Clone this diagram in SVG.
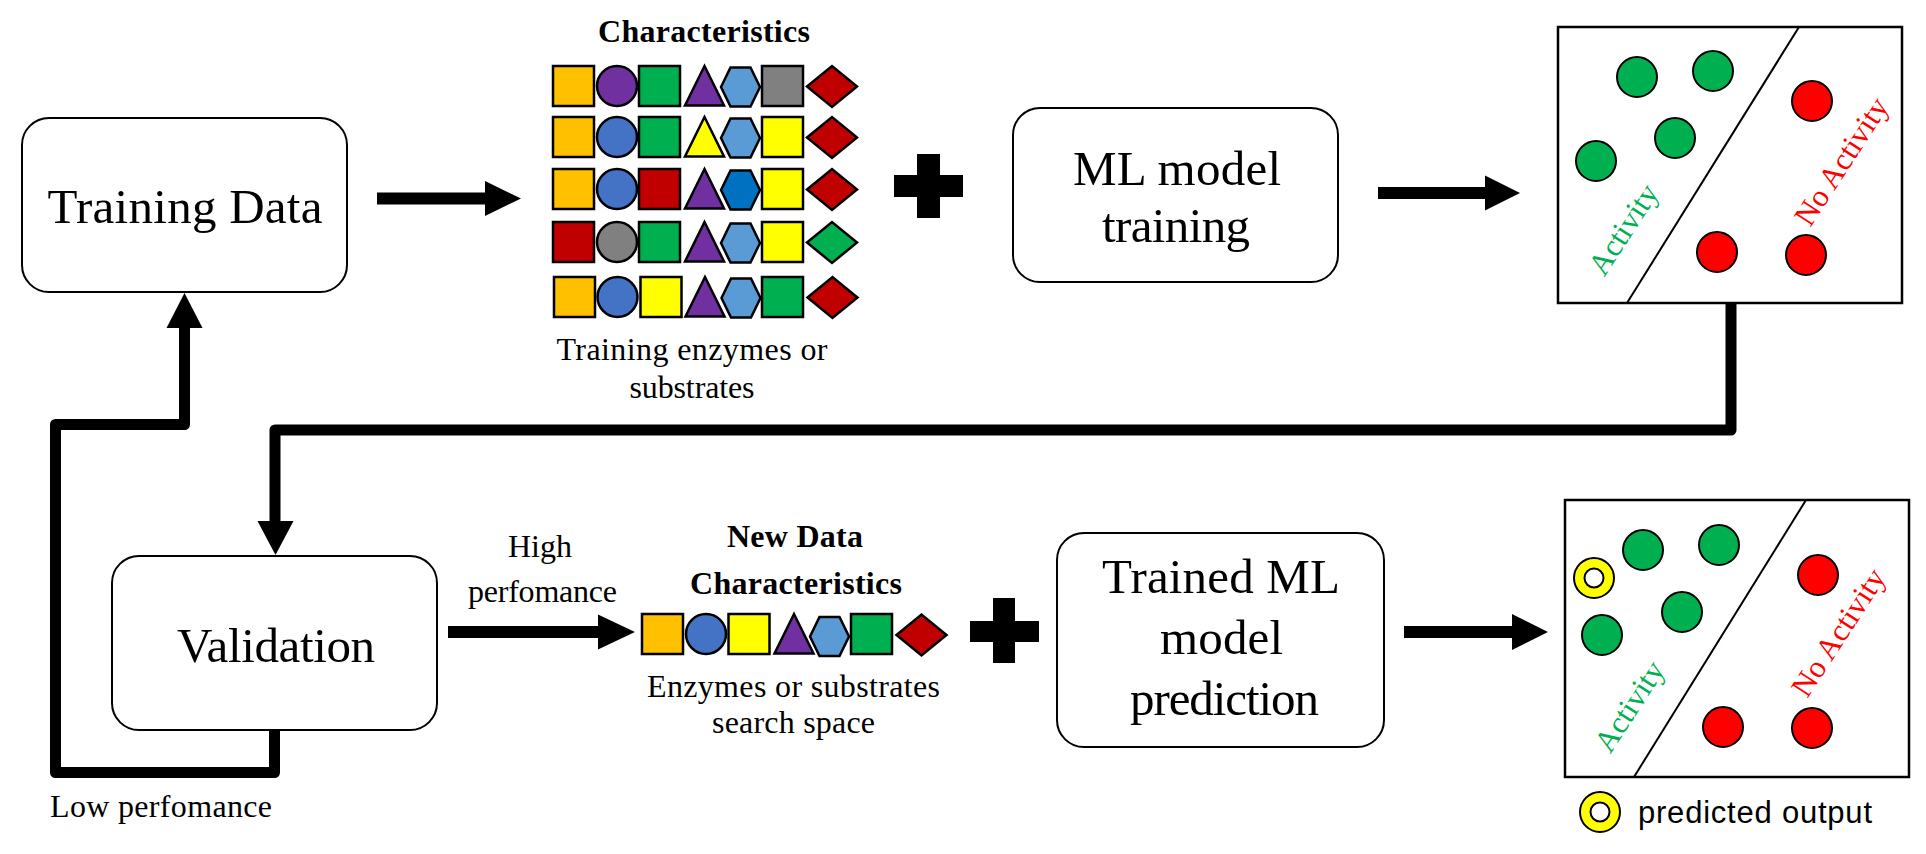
<svg xmlns="http://www.w3.org/2000/svg" width="1926" height="854" viewBox="0 0 1926 854">
<style>
.box{fill:#fff;stroke:#000;stroke-width:2}
.t{font-family:"Liberation Serif","Times New Roman",serif;fill:#000}
.big{font-size:49px}
.sm{font-size:32px}
.b{font-weight:bold}
.sh{stroke:#000;stroke-width:2.5;stroke-linejoin:miter}
.dot{stroke:#000;stroke-width:2}
.panel{fill:#fff;stroke:#000;stroke-width:2.5}
.div{stroke:#000;stroke-width:2}
.conn{fill:none;stroke:#000;stroke-width:11;stroke-linejoin:round}
.ah{fill:#000}
.act{font-family:"Liberation Serif","Times New Roman",serif;font-size:31px;fill:#00B050}
.noact{font-family:"Liberation Serif","Times New Roman",serif;font-size:31px;fill:#FF0000}
.g{fill:#00B050}
.r{fill:#FF0000}
</style>
<defs>
<rect id="sq" class="sh" x="-20.5" y="-20" width="41" height="40"/>
<circle id="ci" class="sh" r="20"/>
<polygon id="tr" class="sh" points="0,-20 19.5,19.5 -19.5,19.5"/>
<polygon id="hx" class="sh" points="-19.5,0 -10,-19.5 10,-19.5 19.5,0 10,19.5 -10,19.5"/>
<polygon id="di" class="sh" points="-25,0 0,-20.5 25,0 0,20.5"/>
<g id="ring"><circle r="20" fill="#FFFF00" stroke="#000" stroke-width="2"/><circle r="9.5" fill="#fff" stroke="#000" stroke-width="2"/></g>
</defs>
<rect width="1926" height="854" fill="#fff"/>

<g id="connectors">
<path class="ah" d="M377,192.5 H485 V181 L521,198.5 L485,216 V204.5 H377 Z"/>
<path class="ah" d="M1378,187 H1485 V175.5 L1520,193 L1485,210.5 V199 H1378 Z"/>
<path class="ah" d="M448,626 H598 V614.5 L635,632 L598,649.5 V638 H448 Z"/>
<path class="ah" d="M1404,626 H1512 V614 L1548,632 L1512,650 V638 H1404 Z"/>
<path class="conn" d="M1731,303 V430 H275 V524"/>
<polygon class="ah" points="257.5,521 293.5,521 275.5,555"/>
<path class="conn" d="M274.5,730 V772.5 H55.5 V424.5 H184.5 V326"/>
<polygon class="ah" points="166.5,328 202.5,328 184.5,293"/>
<polygon class="ah" points="917,154 940,154 940,175 963,175 963,197 940,197 940,218 917,218 917,197 894,197 894,175 917,175"/>
<polygon class="ah" points="993,598 1015,598 1015,621 1039,621 1039,642 1015,642 1015,663 993,663 993,642 970,642 970,621 993,621"/>
</g>

<g id="training-data">
<rect class="box" x="22" y="118" width="325" height="174" rx="27"/>
<text class="t big" x="185" y="223" text-anchor="middle" textLength="275">Training  Data</text>
</g>

<g id="characteristics">
<text class="t sm b" x="704" y="42" text-anchor="middle" textLength="212">Characteristics</text>
<use href="#sq" x="573.5" y="86" fill="#FFC000"/>
<use href="#ci" x="617" y="86" fill="#7030A0"/>
<use href="#sq" x="659.5" y="86" fill="#00B050"/>
<use href="#tr" x="704.5" y="86" fill="#7030A0"/>
<use href="#hx" x="740.5" y="87" fill="#5B9BD5"/>
<use href="#sq" x="782.5" y="86" fill="#808080"/>
<use href="#di" x="832" y="86.5" fill="#C00000"/>

<use href="#sq" x="573.5" y="137" fill="#FFC000"/>
<use href="#ci" x="617" y="137" fill="#4472C4"/>
<use href="#sq" x="659.5" y="137" fill="#00B050"/>
<use href="#tr" x="704.5" y="137" fill="#FFFF00"/>
<use href="#hx" x="740.5" y="138" fill="#5B9BD5"/>
<use href="#sq" x="782.5" y="137" fill="#FFFF00"/>
<use href="#di" x="832" y="137.5" fill="#C00000"/>

<use href="#sq" x="573.5" y="189" fill="#FFC000"/>
<use href="#ci" x="617" y="189" fill="#4472C4"/>
<use href="#sq" x="659.5" y="189" fill="#C00000"/>
<use href="#tr" x="704.5" y="189" fill="#7030A0"/>
<use href="#hx" x="740.5" y="190" fill="#0070C0"/>
<use href="#sq" x="782.5" y="189" fill="#FFFF00"/>
<use href="#di" x="832" y="189.5" fill="#C00000"/>

<use href="#sq" x="573.5" y="242" fill="#C00000"/>
<use href="#ci" x="617" y="242" fill="#808080"/>
<use href="#sq" x="659.5" y="242" fill="#00B050"/>
<use href="#tr" x="704.5" y="242" fill="#7030A0"/>
<use href="#hx" x="740.5" y="243" fill="#5B9BD5"/>
<use href="#sq" x="782.5" y="242" fill="#FFFF00"/>
<use href="#di" x="832" y="242.5" fill="#00B050"/>

<use href="#sq" x="574.5" y="297" fill="#FFC000"/>
<use href="#ci" x="617.5" y="297" fill="#4472C4"/>
<use href="#sq" x="661" y="297" fill="#FFFF00"/>
<use href="#tr" x="705" y="297" fill="#7030A0"/>
<use href="#hx" x="741" y="298" fill="#5B9BD5"/>
<use href="#sq" x="782.5" y="297" fill="#00B050"/>
<use href="#di" x="832.5" y="297.5" fill="#C00000"/>

<text class="t sm" x="692" y="360" text-anchor="middle" textLength="271">Training enzymes  or</text>
<text class="t sm" x="692" y="398" text-anchor="middle" textLength="125">substrates</text>
</g>

<g id="ml-training">
<rect class="box" x="1013" y="108" width="325" height="174" rx="27"/>
<text class="t big" x="1177" y="185" text-anchor="middle" textLength="208">ML model</text>
<text class="t big" x="1176" y="242" text-anchor="middle" textLength="148">training</text>
</g>

<g id="result-training">
<rect class="panel" x="1558" y="27" width="344" height="276"/>
<line class="div" x1="1799" y1="27" x2="1627" y2="303"/>
<circle class="dot g" cx="1637" cy="77" r="20"/>
<circle class="dot g" cx="1713" cy="71" r="20"/>
<circle class="dot g" cx="1675" cy="138" r="20"/>
<circle class="dot g" cx="1596" cy="161" r="20"/>
<circle class="dot r" cx="1812" cy="101" r="20"/>
<circle class="dot r" cx="1717" cy="252" r="20"/>
<circle class="dot r" cx="1806" cy="255" r="20"/>
<text class="act" x="1632" y="235" text-anchor="middle" transform="rotate(-57 1632 235)">Activity</text>
<text class="noact" x="1850" y="167" text-anchor="middle" transform="rotate(-57 1850 167)">No Activity</text>
</g>

<g id="validation">
<rect class="box" x="112" y="556" width="325" height="174" rx="27"/>
<text class="t big" x="276" y="662" text-anchor="middle" textLength="198">Validation</text>
</g>

<g id="labels">
<text class="t sm" x="540" y="557" text-anchor="middle">High</text>
<text class="t sm" x="542.5" y="602" text-anchor="middle" textLength="149">perfomance</text>
<text class="t sm" x="50" y="817" textLength="222">Low perfomance</text>
</g>

<g id="new-data">
<text class="t sm b" x="795" y="547" text-anchor="middle" textLength="136">New Data</text>
<text class="t sm b" x="796" y="594" text-anchor="middle" textLength="212">Characteristics</text>
<use href="#sq" x="662.5" y="634" fill="#FFC000"/>
<use href="#ci" x="706" y="634" fill="#4472C4"/>
<use href="#sq" x="749" y="634" fill="#FFFF00"/>
<use href="#tr" x="794" y="634" fill="#7030A0"/>
<use href="#hx" x="829.5" y="636.5" fill="#5B9BD5"/>
<use href="#sq" x="871.5" y="634" fill="#00B050"/>
<use href="#di" x="921.5" y="635" fill="#C00000"/>
<text class="t sm" x="793.5" y="697" text-anchor="middle" textLength="293">Enzymes  or substrates</text>
<text class="t sm" x="793.5" y="733" text-anchor="middle" textLength="163">search  space</text>
</g>

<g id="trained-prediction">
<rect class="box" x="1057" y="533" width="327" height="214" rx="27"/>
<text class="t big" x="1221" y="593" text-anchor="middle" textLength="238">Trained ML</text>
<text class="t big" x="1221.5" y="654" text-anchor="middle" textLength="123">model</text>
<text class="t big" x="1224.5" y="715" text-anchor="middle" textLength="189">prediction</text>
</g>

<g id="result-prediction">
<rect class="panel" x="1565" y="500" width="344" height="277"/>
<line class="div" x1="1806" y1="500" x2="1634" y2="777"/>
<circle class="dot g" cx="1643" cy="550" r="20"/>
<circle class="dot g" cx="1719" cy="545" r="20"/>
<circle class="dot g" cx="1682" cy="612" r="20"/>
<circle class="dot g" cx="1602" cy="635" r="20"/>
<use href="#ring" x="1594" y="578"/>
<circle class="dot r" cx="1818" cy="575" r="20"/>
<circle class="dot r" cx="1723" cy="727" r="20"/>
<circle class="dot r" cx="1812" cy="728" r="20"/>
<text class="act" x="1638" y="712" text-anchor="middle" transform="rotate(-57 1638 712)">Activity</text>
<text class="noact" x="1847" y="638" text-anchor="middle" transform="rotate(-57 1847 638)">No Activity</text>
</g>

<g id="legend">
<use href="#ring" x="1600" y="812"/>
<text x="1638" y="823" font-family="'Liberation Sans',Arial,sans-serif" font-size="31" fill="#000" textLength="234">predicted  output</text>
</g>
</svg>
